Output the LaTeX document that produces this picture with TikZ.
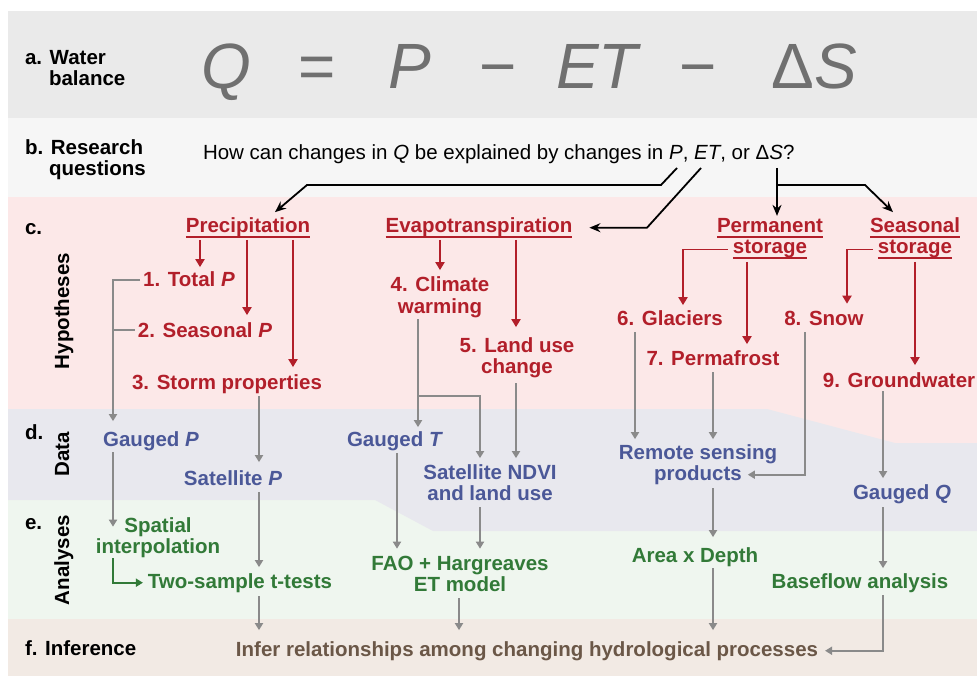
\documentclass[tikz,border=0pt]{standalone}
\usepackage{fontspec}
\setmainfont{Liberation Sans}
\usetikzlibrary{arrows.meta,calc}
\definecolor{bandA}{HTML}{EAEAEA}
\definecolor{bandB}{HTML}{F6F6F6}
\definecolor{bandC}{HTML}{FCE8E8}
\definecolor{bandD}{HTML}{E8E8EE}
\definecolor{bandE}{HTML}{EFF6EF}
\definecolor{bandF}{HTML}{F2EAE4}
\definecolor{hred}{HTML}{B21F2A}
\definecolor{dblue}{HTML}{4B5898}
\definecolor{agreen}{HTML}{327A38}
\definecolor{ibrown}{HTML}{6B5747}
\definecolor{agray}{HTML}{8A8A8A}
\definecolor{eqgray}{HTML}{707070}
\begin{document}
\begin{tikzpicture}[x=1pt,y=-1pt,
  every node/.style={inner sep=0pt, outer sep=0pt, anchor=base},
  txt/.style={font=\fontsize{20.5}{21}\selectfont\bfseries},
  lab/.style={txt, text=black, anchor=base west},
  sidelab/.style={txt, text=black, rotate=90},
  hyp/.style={txt, text=hred},
  dat/.style={txt, text=dblue},
  ana/.style={txt, text=agreen},
  infer/.style={txt, text=ibrown},
  eq/.style={font=\fontsize{64}{64}\selectfont\itshape, text=eqgray},
  redarr/.style={draw=hred, line width=1.9pt, -{Triangle[length=8pt,width=9pt]}},
  grayarr/.style={draw=agray, line width=1.8pt, -{Triangle[length=7pt,width=8pt]}},
  grayline/.style={draw=agray, line width=1.8pt},
  greenarr/.style={draw=agreen, line width=1.8pt, -{Triangle[length=7pt,width=8pt]}},
  blackarr/.style={draw=black, line width=1.8pt, -{Stealth[length=11pt,width=9pt]}},
  ulline/.style={draw=hred, line width=2.5pt},
]
\useasboundingbox (0,0) rectangle (977,676);
% bands
\fill[bandA] (8,11) rectangle (977,118);
\fill[bandB] (8,118) rectangle (977,197);
\fill[bandC] (8,197) rectangle (977,443);
\fill[bandE] (8,500) rectangle (977,619);
\fill[bandD] (8,409) -- (767,409) -- (895,443) -- (977,443) -- (977,531) -- (433,531) -- (375,500) -- (8,500) -- cycle;
\fill[bandF] (8,619) rectangle (977,676);

% row labels
\node[lab] (la1) at (25,65) {a. Water};
\node[lab] (la2) at (49,86) {balance};
\node[lab] (lb1) at (25,155) {b. Research};
\node[lab] (lb2) at (49,176) {questions};
\node[lab] (lc) at (25,235) {c.};
\node[lab] (ld) at (25,439) {d.};
\node[lab] (le) at (25,529) {e.};
\node[lab] (lf) at (25,655) {f. Inference};
\node[sidelab] (lhyp) at (69,311) {Hypotheses};
\node[sidelab] (ldat) at (69,454) {Data};
\node[sidelab] (lana) at (69,560) {Analyses};

% equation
\node[eq] (eQ) at (226,89) {Q};
\node[eq] (eEq) at (316,89) {=};
\node[eq] (eP) at (410,89) {P};
\node[eq] (eM1) at (497,89) {−};
\node[eq] (eET) at (597,89) {ET};
\node[eq] (eM2) at (697,89) {−};
\node[eq] (eS) at (814,89) {{\upshape Δ}S};

% research question
\node[anchor=base west, font=\fontsize{20.5}{21}\selectfont] (q) at (203,160)
  {How can changes in \textit{Q} be explained by changes in \textit{P}, \textit{ET}, or Δ\textit{S}?};
\coordinate (qP) at (677,168);
\coordinate (qET) at (701,168);
\coordinate (qS) at (777,168);

% hypotheses headings
\node[hyp] (prec) at (248,233) {Precipitation};
\node[hyp] (evap) at (479,233) {Evapotranspiration};
\node[hyp] (perm1) at (770,233) {Permanent};
\node[hyp] (perm2) at (770,254) {storage};
\node[hyp] (seas1) at (915,233) {Seasonal};
\node[hyp] (seas2) at (915,254) {storage};
\foreach \n in {prec,evap,perm1,perm2,seas1,seas2}
  \draw[ulline] ([yshift=-4pt]\n.base west) -- ([yshift=-4pt]\n.base east);

% hypotheses
\node[hyp] (h1) at (189,287) {1. Total \textit{P}};
\node[hyp] (h2) at (205,337) {2. Seasonal \textit{P}};
\node[hyp] (h3) at (227,389) {3. Storm properties};
\node[hyp] (h4a) at (440,292) {4. Climate};
\node[hyp] (h4b) at (440,313) {warming};
\node[hyp] (h5a) at (517,352) {5. Land use};
\node[hyp] (h5b) at (517,373) {change};
\node[hyp] (h6) at (670,325) {6. Glaciers};
\node[hyp] (h7) at (713,365) {7. Permafrost};
\node[hyp] (h8) at (824,325) {8. Snow};
\node[hyp] (h9) at (899,387) {9. Groundwater};

% data
\node[dat] (dgp) at (151,446) {Gauged \textit{P}};
\node[dat] (dsp) at (233,485) {Satellite \textit{P}};
\node[dat] (dgt) at (395,446) {Gauged \textit{T}};
\node[dat] (dnd1) at (490,479) {Satellite NDVI};
\node[dat] (dnd2) at (490,500) {and land use};
\node[dat] (drs1) at (698,459) {Remote sensing};
\node[dat] (drs2) at (698,480) {products};
\node[dat] (dgq) at (902,499) {Gauged \textit{Q}};

% analyses
\node[ana] (asp1) at (158,532) {Spatial};
\node[ana] (asp2) at (158,553) {interpolation};
\node[ana] (att) at (240,588) {Two-sample t-tests};
\node[ana] (afao1) at (460,570) {FAO + Hargreaves};
\node[ana] (afao2) at (460,591) {ET model};
\node[ana] (aad) at (695,562) {Area x Depth};
\node[ana] (abf) at (860,588) {Baseflow analysis};

% inference
\node[infer] (inf) at (527,656) {Infer relationships among changing hydrological processes};

% black connectors
\draw[blackarr] (qP) -- ++(-16,17) -- ++(-354,0) -- ([shift={(27pt,6pt)}]prec.north);
\draw[blackarr] (qET) -- (evap.east -| 647,0) -- ([xshift=17pt]evap.east);
\draw[blackarr] (qS) -- ([shift={(7pt,3pt)}]perm1.north);
\draw[blackarr] ([yshift=-17pt]qS) -- ++(88,0) -- ([shift={(-22pt,6pt)}]seas1.north);

% red connectors
\draw[redarr, shorten <=7pt, shorten >=5pt] (prec.base -| 200,0) -- (h1.north -| 200,0);
\draw[redarr, shorten <=7pt, shorten >=7pt] (prec.base -| 247,0) -- (h2.north -| 247,0);
\draw[redarr, shorten <=7pt, shorten >=7pt] (prec.base -| 293,0) -- (h3.north -| 293,0);
\draw[redarr, shorten <=7pt, shorten >=7pt] (evap.base -| 440,0) -- (h4a.north -| 440,0);
\draw[redarr, shorten <=7pt, shorten >=10pt] (evap.base -| 516,0) -- (h5a.north -| 516,0);
\draw[redarr, shorten >=5pt] ([xshift=-5pt]perm2.west) -| (h6.north -| 683,0);
\draw[redarr, shorten <=8pt, shorten >=6pt] (perm2.base -| 747,0) -- (h7.north -| 747,0);
\draw[redarr, shorten >=7pt] ([xshift=-5pt]seas2.west) -| (h8.north -| 847,0);
\draw[redarr, shorten <=8pt, shorten >=7pt] (seas2.base -| 915,0) -- (h9.north -| 915,0);

% gray connectors
\draw[grayarr, shorten >=10pt] ([xshift=-3pt]h1.west) -| (dgp.north -| 113,0);
\draw[grayline] ([xshift=-3pt]h2.west) -- (h2.west -| 113,0);
\draw[grayarr, shorten <=3pt, shorten >=8pt] (h3.south -| 259,0) -- (dsp.north -| 259,0);
\draw[grayarr, shorten <=2pt] (dgp.south -| 113,0) -- (asp1.west -| 113,0);
\draw[greenarr, shorten <=1pt, shorten >=5pt] (asp2.south -| 113,0) |- (att.west);
\draw[grayarr, shorten <=7pt, shorten >=6pt] (dsp.south -| 259,0) -- (att.north -| 259,0);
\draw[grayarr, shorten <=4pt, shorten >=11pt] (att.south -| 259,0) -- (inf.north -| 259,0);
\draw[grayarr, shorten <=2pt, shorten >=4pt] (h4b.south -| 418,0) -- (dgt.north -| 418,0);
\coordinate (brT) at (418,396);
\draw[grayarr, shorten >=6pt] (brT) -| (dnd1.north -| 480,0);
\draw[grayarr, shorten <=6pt, shorten >=6pt] (h5b.south -| 516,0) -- (dnd1.north -| 516,0);
\draw[grayarr, shorten <=3pt, shorten >=7pt] (dgt.south -| 397,0) -- (afao1.north -| 397,0);
\draw[grayarr, shorten <=7pt, shorten >=7pt] (dnd2.south -| 480,0) -- (afao1.north -| 480,0);
\draw[grayarr, shorten <=7pt, shorten >=11pt] (afao2.south -| 459,0) -- (inf.north -| 459,0);
\draw[grayarr, shorten <=7pt, shorten >=5pt] (h6.south -| 635,0) -- (drs1.north -| 635,0);
\draw[grayarr, shorten <=7pt, shorten >=5pt] (h7.south -| 713,0) -- (drs1.north -| 713,0);
\draw[grayarr, shorten <=7pt, shorten >=6pt] (h8.south -| 805,0) |- (drs2.east);
\draw[grayarr, shorten <=4pt, shorten >=10pt] (drs2.south -| 713,0) -- (aad.north -| 713,0);
\draw[grayarr, shorten <=2pt, shorten >=11pt] (aad.south -| 713,0) -- (inf.north -| 713,0);
\draw[grayarr, shorten <=4pt, shorten >=6pt] (h9.south -| 883,0) -- (dgq.north -| 883,0);
\draw[grayarr, shorten <=4pt, shorten >=5pt] (dgq.south -| 883,0) -- (abf.north -| 883,0);
\draw[grayarr, shorten <=3pt, shorten >=7pt] (abf.south -| 883,0) |- (inf.east);
\end{tikzpicture}
\end{document}
